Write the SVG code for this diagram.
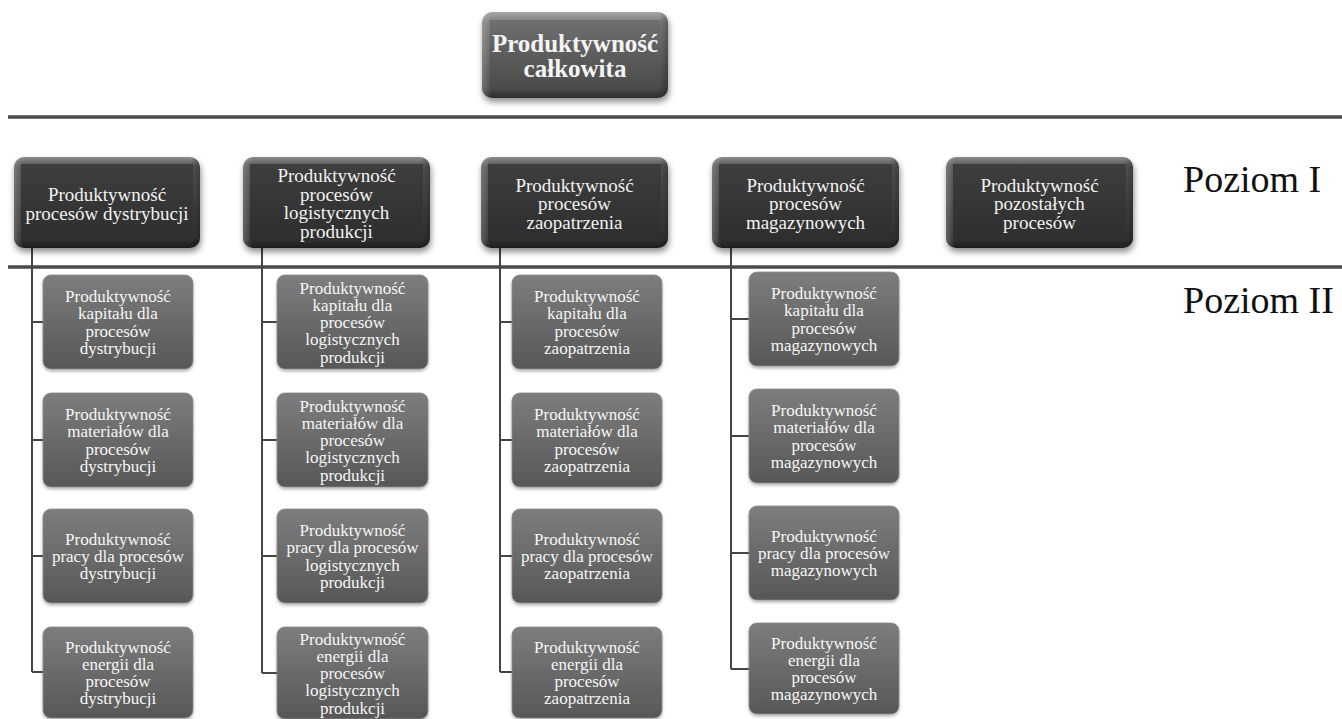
<svg xmlns="http://www.w3.org/2000/svg" width="1342" height="719" viewBox="0 0 1342 719">
<defs>
<linearGradient id="topOuter" x1="0" y1="0" x2="0" y2="1"><stop offset="0" stop-color="#a8a8a8"/><stop offset="0.12" stop-color="#7a7a7a"/><stop offset="0.88" stop-color="#4a4a4a"/><stop offset="1" stop-color="#2e2e2e"/></linearGradient>
<linearGradient id="topInner" x1="0" y1="0" x2="0" y2="1"><stop offset="0" stop-color="#6f6f6f"/><stop offset="1" stop-color="#4a4a4a"/></linearGradient>
<linearGradient id="l1Outer" x1="0" y1="0" x2="0" y2="1"><stop offset="0" stop-color="#8c8c8c"/><stop offset="0.1" stop-color="#555"/><stop offset="0.9" stop-color="#333"/><stop offset="1" stop-color="#1c1c1c"/></linearGradient>
<linearGradient id="l1Inner" x1="0" y1="0" x2="0" y2="1"><stop offset="0" stop-color="#3e3e3e"/><stop offset="1" stop-color="#2e2e2e"/></linearGradient>
<linearGradient id="sideH" x1="0" y1="0" x2="1" y2="0"><stop offset="0" stop-color="#fff" stop-opacity="0.22"/><stop offset="0.05" stop-color="#fff" stop-opacity="0"/><stop offset="0.95" stop-color="#000" stop-opacity="0"/><stop offset="1" stop-color="#000" stop-opacity="0.25"/></linearGradient>
<linearGradient id="l2Fill" x1="0" y1="0" x2="0" y2="1"><stop offset="0" stop-color="#7d7d7d"/><stop offset="1" stop-color="#575757"/></linearGradient>
<filter id="shadow" x="-10%" y="-10%" width="125%" height="135%"><feDropShadow dx="1" dy="4" stdDeviation="3" flood-color="#000" flood-opacity="0.45"/></filter>
<filter id="shadow2" x="-10%" y="-10%" width="125%" height="130%"><feDropShadow dx="0" dy="2" stdDeviation="1.5" flood-color="#000" flood-opacity="0.3"/></filter>
</defs>
<style>
.t0{font-family:"Liberation Serif","Times New Roman",serif;font-size:25px;font-weight:bold;fill:#f4f4f4;text-anchor:middle}
.t1{font-family:"Liberation Serif","Times New Roman",serif;font-size:19px;fill:#f2f2f2;text-anchor:middle}
.t2{font-family:"Liberation Serif","Times New Roman",serif;font-size:17px;fill:#f6f6f6;text-anchor:middle}
.lvl{font-family:"Liberation Serif","Times New Roman",serif;font-size:38px;fill:#111}
.sep{stroke:#4a4a4a;stroke-width:3.5;fill:none}
.con{stroke:#454545;stroke-width:2;fill:none}
.l2{fill:url(#l2Fill);stroke:#8a8a8a;stroke-width:0.8;filter:url(#shadow2)}
</style>

<g id="separators">
<line class="sep" x1="8" y1="117" x2="1342" y2="117"/>
<line class="sep" x1="8" y1="267" x2="1342" y2="267"/>
</g>

<g id="connectors">
<path class="con" d="M32 248V672M32 322H43M32 440H43M32 556H43M32 672H43"/>
<path class="con" d="M262 248V673M262 322H277M262 440H277M262 556H277M262 673H277"/>
<path class="con" d="M500 248V672M500 322H512M500 440H512M500 556H512M500 672H512"/>
<path class="con" d="M731 248V669M731 319H749M731 436H749M731 553H749M731 669H749"/>
</g>

<g id="top">
<rect x="482" y="12" width="186" height="86" rx="10" fill="url(#topOuter)" filter="url(#shadow)"/>
<rect x="482" y="12" width="186" height="86" rx="10" fill="url(#sideH)"/>
<rect x="490" y="20" width="170" height="70" fill="url(#topInner)"/>
<text class="t0" x="575" y="52">Produktywność</text>
<text class="t0" x="575" y="77">całkowita</text>
</g>

<g id="n1">
<rect x="14" y="157" width="186" height="91" rx="10" fill="url(#l1Outer)" filter="url(#shadow)"/>
<rect x="14" y="157" width="186" height="91" rx="10" fill="url(#sideH)"/>
<rect x="21" y="164" width="172" height="77" fill="url(#l1Inner)"/>
<text class="t1" x="107" y="201">Produktywność</text>
<text class="t1" x="107" y="219.5">procesów dystrybucji</text>
</g>
<g id="n2">
<rect x="243" y="157" width="187" height="91" rx="10" fill="url(#l1Outer)" filter="url(#shadow)"/>
<rect x="243" y="157" width="187" height="91" rx="10" fill="url(#sideH)"/>
<rect x="250" y="164" width="173" height="77" fill="url(#l1Inner)"/>
<text class="t1" x="336.5" y="182">Produktywność</text>
<text class="t1" x="336.5" y="200.5">procesów</text>
<text class="t1" x="336.5" y="219">logistycznych</text>
<text class="t1" x="336.5" y="237.5">produkcji</text>
</g>
<g id="n3">
<rect x="481" y="157" width="187" height="91" rx="10" fill="url(#l1Outer)" filter="url(#shadow)"/>
<rect x="481" y="157" width="187" height="91" rx="10" fill="url(#sideH)"/>
<rect x="488" y="164" width="173" height="77" fill="url(#l1Inner)"/>
<text class="t1" x="574.5" y="191.5">Produktywność</text>
<text class="t1" x="574.5" y="210">procesów</text>
<text class="t1" x="574.5" y="228.5">zaopatrzenia</text>
</g>
<g id="n4">
<rect x="712" y="157" width="187" height="91" rx="10" fill="url(#l1Outer)" filter="url(#shadow)"/>
<rect x="712" y="157" width="187" height="91" rx="10" fill="url(#sideH)"/>
<rect x="719" y="164" width="173" height="77" fill="url(#l1Inner)"/>
<text class="t1" x="805.5" y="191.5">Produktywność</text>
<text class="t1" x="805.5" y="210">procesów</text>
<text class="t1" x="805.5" y="228.5">magazynowych</text>
</g>
<g id="n5">
<rect x="946" y="157" width="187" height="91" rx="10" fill="url(#l1Outer)" filter="url(#shadow)"/>
<rect x="946" y="157" width="187" height="91" rx="10" fill="url(#sideH)"/>
<rect x="953" y="164" width="173" height="77" fill="url(#l1Inner)"/>
<text class="t1" x="1039.5" y="191.5">Produktywność</text>
<text class="t1" x="1039.5" y="210">pozostałych</text>
<text class="t1" x="1039.5" y="228.5">procesów</text>
</g>

<g id="c1r1"><rect class="l2" x="43" y="275" width="150" height="94" rx="8"/>
<text class="t2" x="118" y="302">Produktywność</text><text class="t2" x="118" y="319.3">kapitału dla</text><text class="t2" x="118" y="336.6">procesów</text><text class="t2" x="118" y="353.9">dystrybucji</text></g>
<g id="c1r2"><rect class="l2" x="43" y="393" width="150" height="94" rx="8"/>
<text class="t2" x="118" y="420">Produktywność</text><text class="t2" x="118" y="437.3">materiałów dla</text><text class="t2" x="118" y="454.6">procesów</text><text class="t2" x="118" y="471.9">dystrybucji</text></g>
<g id="c1r3"><rect class="l2" x="43" y="509" width="150" height="94" rx="8"/>
<text class="t2" x="118" y="544.7">Produktywność</text><text class="t2" x="118" y="562">pracy dla procesów</text><text class="t2" x="118" y="579.3">dystrybucji</text></g>
<g id="c1r4"><rect class="l2" x="43" y="627" width="150" height="91" rx="8"/>
<text class="t2" x="118" y="652.5">Produktywność</text><text class="t2" x="118" y="669.8">energii dla</text><text class="t2" x="118" y="687.1">procesów</text><text class="t2" x="118" y="704.4">dystrybucji</text></g>

<g id="c2r1"><rect class="l2" x="277" y="275" width="151" height="94" rx="8"/>
<text class="t2" x="352.5" y="293.5">Produktywność</text><text class="t2" x="352.5" y="310.8">kapitału dla</text><text class="t2" x="352.5" y="328.1">procesów</text><text class="t2" x="352.5" y="345.4">logistycznych</text><text class="t2" x="352.5" y="362.7">produkcji</text></g>
<g id="c2r2"><rect class="l2" x="277" y="393" width="151" height="94" rx="8"/>
<text class="t2" x="352.5" y="411.5">Produktywność</text><text class="t2" x="352.5" y="428.8">materiałów dla</text><text class="t2" x="352.5" y="446.1">procesów</text><text class="t2" x="352.5" y="463.4">logistycznych</text><text class="t2" x="352.5" y="480.7">produkcji</text></g>
<g id="c2r3"><rect class="l2" x="277" y="509" width="151" height="94" rx="8"/>
<text class="t2" x="352.5" y="536">Produktywność</text><text class="t2" x="352.5" y="553.3">pracy dla procesów</text><text class="t2" x="352.5" y="570.6">logistycznych</text><text class="t2" x="352.5" y="587.9">produkcji</text></g>
<g id="c2r4"><rect class="l2" x="277" y="627" width="151" height="92" rx="8"/>
<text class="t2" x="352.5" y="644.5">Produktywność</text><text class="t2" x="352.5" y="661.8">energii dla</text><text class="t2" x="352.5" y="679.1">procesów</text><text class="t2" x="352.5" y="696.4">logistycznych</text><text class="t2" x="352.5" y="713.7">produkcji</text></g>

<g id="c3r1"><rect class="l2" x="512" y="275" width="150" height="94" rx="8"/>
<text class="t2" x="587" y="302">Produktywność</text><text class="t2" x="587" y="319.3">kapitału dla</text><text class="t2" x="587" y="336.6">procesów</text><text class="t2" x="587" y="353.9">zaopatrzenia</text></g>
<g id="c3r2"><rect class="l2" x="512" y="393" width="150" height="94" rx="8"/>
<text class="t2" x="587" y="420">Produktywność</text><text class="t2" x="587" y="437.3">materiałów dla</text><text class="t2" x="587" y="454.6">procesów</text><text class="t2" x="587" y="471.9">zaopatrzenia</text></g>
<g id="c3r3"><rect class="l2" x="512" y="509" width="150" height="94" rx="8"/>
<text class="t2" x="587" y="544.7">Produktywność</text><text class="t2" x="587" y="562">pracy dla procesów</text><text class="t2" x="587" y="579.3">zaopatrzenia</text></g>
<g id="c3r4"><rect class="l2" x="512" y="627" width="150" height="91" rx="8"/>
<text class="t2" x="587" y="652.5">Produktywność</text><text class="t2" x="587" y="669.8">energii dla</text><text class="t2" x="587" y="687.1">procesów</text><text class="t2" x="587" y="704.4">zaopatrzenia</text></g>

<g id="c4r1"><rect class="l2" x="749" y="272" width="150" height="94" rx="8"/>
<text class="t2" x="824" y="299">Produktywność</text><text class="t2" x="824" y="316.3">kapitału dla</text><text class="t2" x="824" y="333.6">procesów</text><text class="t2" x="824" y="350.9">magazynowych</text></g>
<g id="c4r2"><rect class="l2" x="749" y="389" width="150" height="94" rx="8"/>
<text class="t2" x="824" y="416">Produktywność</text><text class="t2" x="824" y="433.3">materiałów dla</text><text class="t2" x="824" y="450.6">procesów</text><text class="t2" x="824" y="467.9">magazynowych</text></g>
<g id="c4r3"><rect class="l2" x="749" y="506" width="150" height="94" rx="8"/>
<text class="t2" x="824" y="541.7">Produktywność</text><text class="t2" x="824" y="559">pracy dla procesów</text><text class="t2" x="824" y="576.3">magazynowych</text></g>
<g id="c4r4"><rect class="l2" x="749" y="623" width="150" height="91" rx="8"/>
<text class="t2" x="824" y="648.5">Produktywność</text><text class="t2" x="824" y="665.8">energii dla</text><text class="t2" x="824" y="683.1">procesów</text><text class="t2" x="824" y="700.4">magazynowych</text></g>

<g id="levels">
<text class="lvl" x="1183" y="192">Poziom I</text>
<text class="lvl" x="1183" y="313">Poziom II</text>
</g>
</svg>
